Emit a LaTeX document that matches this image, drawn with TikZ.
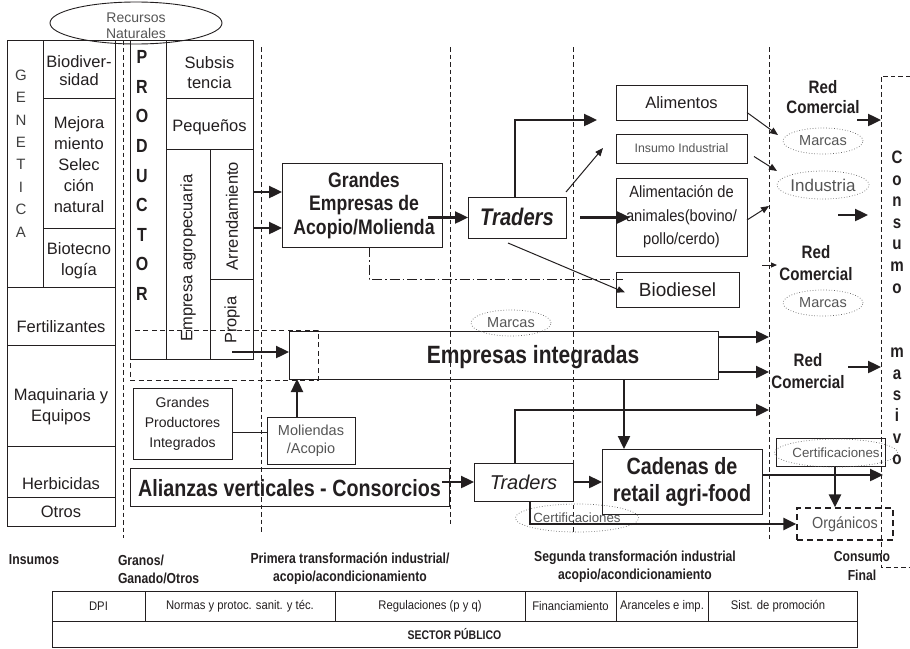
\documentclass[tikz,border=0pt]{standalone}
\usepackage{fontspec}
\setmainfont{Liberation Sans}
\newfontfamily\condfont{Liberation Sans}[FakeStretch=0.84]
\newfontfamily\narrowfont{Liberation Sans}[FakeStretch=0.9]
\usetikzlibrary{arrows.meta,shapes.geometric,fit}
\definecolor{ink}{RGB}{35,31,32}
\definecolor{soft}{RGB}{85,85,85}
\newcommand{\fsz}[2]{\fontsize{#1}{#2}\selectfont}
\tikzset{
  cell/.style={draw=ink, line width=1pt, inner sep=0pt, outer sep=0pt},
  txt/.style={inner sep=0pt, outer sep=0pt, text=ink, align=center},
  stxt/.style={txt, text=soft},
  btxt/.style={txt, font=\condfont\bfseries},
  bigarrow/.style={draw=ink, line width=2.4pt, -{Triangle[length=13pt,width=12pt]}},
  thinarrow/.style={draw=ink, line width=1pt, -{Triangle[length=8pt,width=6.5pt]}},
  plainline/.style={draw=ink, line width=1pt},
  divider/.style={draw=ink, line width=0.9pt, dash pattern=on 4.5pt off 3pt},
  zonebox/.style={draw=ink, line width=1pt, dash pattern=on 5pt off 3.5pt, inner sep=0pt},
  orgbox/.style={draw=ink, line width=1.3pt, dash pattern=on 6pt off 4pt, inner sep=0pt},
  dashdotline/.style={draw=ink, line width=1pt, dash pattern=on 10pt off 3pt on 1.5pt off 3pt},
  oval/.style={ellipse, draw=black!60, line width=0.7pt, dotted, inner sep=0pt, text=soft},
  caption/.style={btxt, font=\condfont\bfseries\fsz{14.5}{18}},
  cellt/.style={txt, font=\narrowfont\fsz{12.5}{14}},
}
\begin{document}
\begin{tikzpicture}[x=1pt,y=-1pt]
\useasboundingbox (0,0) rectangle (910,648);
\fill[white] (0,0) rectangle (910,648);

% ---------- stage dividers ----------
\draw[divider] (123,40) -- (123,538);
\draw[divider] (261,47) -- (261,533);
\draw[divider] (450,47) -- (450,527);
\draw[divider] (573,47) -- (573,533);
\draw[divider] (769,47) -- (769,540);
% consumption frame
\draw[divider] (910,76) -- (881,76) -- (881,567) -- (910,567);

% ---------- inputs column ----------
\node[cell, fit={(7,40)(43,287)}] (gen) {};
\node[cell, fit={(43,40)(115,98)}] (biodiv) {};
\node[cell, fit={(43,98)(115,228)}] (mejora) {};
\node[cell, fit={(43,228)(115,287)}] (biotec) {};
\node[cell, fit={(7,287)(115,345)}] (fert) {};
\node[cell, fit={(7,345)(115,446)}] (maq) {};
\node[cell, fit={(7,446)(115,497)}] (herb) {};
\node[cell, fit={(7,497)(115,526)}] (otros) {};
\draw[plainline] (biodiv.north east) -- (130,40);

\node[txt, text=black!75, font=\fsz{15}{22.4}] (genl) at (21,153.5) {G\\E\\N\\E\\T\\I\\C\\A};
\node[txt, font=\fsz{16.5}{18}] (biodivl) at (79,71) {Biodiver-\\sidad};
\node[txt, font=\fsz{16.5}{21}] (mejoral) at (79,165) {Mejora\\miento\\Selec\\ción\\natural};
\node[txt, font=\fsz{16.5}{21}] (biotecl) at (79,261) {Biotecno\\logía};
\node[txt, font=\fsz{16.5}{21}] (fertl) at (61,327) {Fertilizantes};
\node[txt, font=\fsz{16.5}{21}] (maql) at (61,407) {Maquinaria y\\Equipos};
\node[txt, font=\fsz{16.5}{21}] (herbl) at (61,484) {Herbicidas};
\node[txt, font=\fsz{16.5}{21}] (otrosl) at (61,512) {Otros};

% natural resources
\node[ellipse, draw=ink, line width=0.9pt, minimum width=172pt, minimum height=42pt, inner sep=0pt] (recnat) at (136,23) {};
\node[stxt, font=\fsz{14}{16}] (recnatl) at (136,26) {Recursos\\Naturales};

% ---------- producers ----------
\node[cell, fit={(130,40)(166,359)}] (prod) {};
\node[cell, fit={(166,40)(253,98)}] (subs) {};
\node[cell, fit={(166,98)(253,149)}] (peq) {};
\node[cell, fit={(166,149)(210,359)}] (empag) {};
\node[cell, fit={(210,149)(253,279)}] (arr) {};
\node[cell, fit={(210,279)(253,359)}] (prop) {};

\node[btxt, font=\condfont\bfseries\fsz{19}{29.6}] (prodl) at (142,175.5) {P\\R\\O\\D\\U\\C\\T\\O\\R};
\node[txt, font=\fsz{16.5}{20}] (subsl) at (209.5,73) {Subsis\\tencia};
\node[txt, font=\fsz{16.5}{20}] (peql) at (209.5,127) {Pequeños};
\node[txt, font=\fsz{16.5}{20}, rotate=90] (empagl) at (188,258) {Empresa agropecuaria};
\node[txt, font=\fsz{16.5}{20}, rotate=90] (arrl) at (232,216) {Arrendamiento};
\node[txt, font=\fsz{16.5}{20}, rotate=90] (propl) at (232,320) {Propia};

% ---------- integrated firms ----------
\node[cell, fit={(289,331)(718,379)}] (ei) {};
\node[zonebox, fit={(130,330)(318,380)}] (zone) {};
\node[btxt, font=\condfont\bfseries\fsz{25}{28}] (eil) at (533,357) {Empresas integradas};
\node[oval, minimum width=80pt, minimum height=26pt, font=\fsz{14.5}{16}] (marcas0) at (511,323) {Marcas};

\coordinate (propstart) at (232,352);
\draw[bigarrow] (propstart) -- (propstart -| ei.west);

\node[cell, fit={(133,388)(232,459)}] (gpi) {};
\node[txt, font=\fsz{14}{20}] (gpil) at (182.5,424) {Grandes\\Productores\\Integrados};
\node[cell, fit={(267,417)(355,464)}] (mol) {};
\node[stxt, font=\fsz{14.5}{18}] (moll) at (311,441) {Moliendas\\/Acopio};
\draw[plainline] ([yshift=-8.5pt]gpi.east) -- ([yshift=-8.5pt]gpi.east -| mol.west);
\draw[bigarrow] ([xshift=-14pt]mol.north) -- ([xshift=-14pt]mol.north |- ei.south);

% ---------- vertical alliances ----------
\node[cell, fit={(130,468)(449,506)}] (ali) {};
\node[btxt, font=\condfont\bfseries\fsz{23.5}{27}] (alil) at (289.5,488) {Alianzas verticales - Consorcios};
\node[cell, fit={(474,463)(573,501)}] (tr2) {};
\node[txt, font=\itshape\fsz{20}{24}] (tr2l) at (523.5,482) {Traders};
\node[cell, fit={(602,449)(762,514)}] (cad) {};
\node[btxt, font=\condfont\bfseries\fsz{23.5}{27}] (cadl) at (682,482) {Cadenas de\\retail agri-food};

\draw[bigarrow] ([xshift=-7pt]ali.east |- tr2.west) -- (tr2.west);
\draw[bigarrow] (tr2.east) -- (tr2.east -| cad.west);
\draw[bigarrow] ([xshift=-58pt]cad.north |- ei.south) -- ([xshift=-58pt]cad.north);
\coordinate (rc3in) at (769,410);
\draw[bigarrow] ([xshift=-8.5pt]tr2.north) |- (rc3in);
\coordinate (ei1) at (769,337);
\coordinate (ei2) at (769,372);
\draw[bigarrow] (ei.east |- ei1) -- (ei1);
\draw[bigarrow] (ei.east |- ei2) -- (ei2);

\node[oval, minimum width=110pt, minimum height=28pt, font=\fsz{13.3}{15}] (cert1) at (577,518) {Certificaciones};

% ---------- primary processing ----------
\node[cell, fit={(282,163)(442,247)}] (ge) {};
\node[btxt, font=\condfont\bfseries\fsz{21}{23.5}] (gel) at (364,205.5) {Grandes\\Empresas de\\Acopio/Molienda};
\node[cell, fit={(468,197)(566,238)}] (tr1) {};
\node[btxt, font=\condfont\bfseries\itshape\fsz{24}{28}] (tr1l) at (517,217) {Traders};

\draw[bigarrow] ([yshift=22pt]arr.east) -- ([yshift=22pt]arr.east -| ge.west);
\draw[bigarrow] ([yshift=-14pt]arr.east) -- ([yshift=-14pt]arr.east -| ge.west);
\draw[bigarrow] ([xshift=-14pt]ge.east |- tr1.west) -- (tr1.west);

% ---------- second processing ----------
\node[cell, fit={(616,85)(747,120)}] (alim) {};
\node[txt, font=\fsz{16.5}{20}] (aliml) at (681.5,102.5) {Alimentos};
\node[cell, fit={(616,134)(747,163)}] (ins) {};
\node[stxt, font=\fsz{12.3}{14}] (insl) at (681.5,148.5) {Insumo Industrial};
\node[cell, fit={(616,178)(747,256)}] (anim) {};
\node[txt, font=\narrowfont\fsz{16.3}{23.5}] (animl) at (681.5,217) {Alimentación de\\animales(bovino/\\pollo/cerdo)};
\node[cell, fit={(616,272)(739,307)}] (bio) {};
\node[txt, font=\fsz{19}{22}] (biol) at (677.5,289.5) {Biodiesel};

\coordinate (alimin) at (597,120);
\coordinate (insin) at (603,148);
\draw[bigarrow] ([xshift=-2pt]tr1.north) |- (alimin);
\draw[thinarrow] ([yshift=5pt]tr1.north east) -- (insin);
\draw[bigarrow] ([xshift=14pt]tr1.east) -- ([xshift=14pt]tr1.east -| anim.west);
\draw[thinarrow] ([xshift=-9pt,yshift=-5pt]tr1.south) -- ([xshift=9pt,yshift=-3pt]bio.west);
\coordinate (ddend) at (623,279);
\draw[dashdotline] ([xshift=7pt]ge.south) |- (ddend);

% ---------- commercial network ----------
\node[btxt, font=\condfont\bfseries\fsz{18}{20}] (rc1) at (823,97) {Red\\Comercial};
\node[oval, minimum width=80pt, minimum height=26pt, font=\fsz{14.5}{16}] (marcas1) at (823,141) {Marcas};
\node[oval, minimum width=80pt, minimum height=28pt, font=\fsz{17}{19}] (indus) at (823,185) {Industria};
\node[btxt, font=\condfont\bfseries\fsz{18}{22}] (rc2) at (816,263) {Red\\Comercial};
\node[oval, minimum width=80pt, minimum height=26pt, font=\fsz{14.5}{16}] (marcas2) at (823,303) {Marcas};
\node[btxt, font=\condfont\bfseries\fsz{18}{22}] (rc3) at (808,371) {Red\\Comercial};

\coordinate (m1in) at (778,135);
\coordinate (m2in) at (777,171);
\coordinate (m3in) at (769,206);
\coordinate (rc2a) at (762,265);
\coordinate (rc2b) at (777,265);
\draw[thinarrow] ([yshift=-10pt]alim.east) -- (m1in);
\draw[thinarrow] ([xshift=7pt,yshift=-8pt]ins.east) -- (m2in);
\draw[thinarrow] ([yshift=-3pt]anim.east) -- (m3in);
\draw[thinarrow, -{Triangle[length=6pt,width=5pt]}] (rc2a) -- (rc2b);

\coordinate (cons1) at (881,120);
\coordinate (cons2) at (868,215);
\coordinate (cons3) at (881,367);
\coordinate (cons4) at (883,475);
\draw[bigarrow] ([xshift=-24pt]cons1) -- (cons1);
\draw[bigarrow] ([xshift=-30pt]cons2) -- (cons2);
\draw[bigarrow] ([xshift=-33pt]cons3) -- (cons3);

\node[draw=ink, line width=1pt, inner sep=0pt, fit={(776,438)(885,466)}] (certbox) {};
\node[oval, minimum width=110pt, minimum height=28pt, font=\fsz{13.3}{15}] (cert2) at (836,453) {Certificaciones};
\node[orgbox, fit={(797,508)(893,540)}] (org) {};
\node[stxt, font=\narrowfont\fsz{16}{18}] (orgl) at (845,524) {Orgánicos};

\draw[bigarrow] (cad.east |- cons4) -- (cons4);
\draw[bigarrow] ([xshift=4.5pt]certbox.south) -- ([xshift=4.5pt]certbox.south |- org.north);
\draw[bigarrow] ([xshift=6.5pt]tr2.south) |- (org.west);

% consumption labels
\node[btxt, font=\condfont\bfseries\fsz{18}{21.6}] (consl) at (897,222) {C\\o\\n\\s\\u\\m\\o};
\node[btxt, font=\condfont\bfseries\fsz{18}{21.4}] (masl) at (897,406.5) {m\\a\\s\\i\\v\\o};

% ---------- stage captions ----------
\node[caption] (capa) at (34,560) {Insumos};
\node[caption, align=left, anchor=west] (capb) at (118,569) {Granos/\\Ganado/Otros};
\node[caption] (capc) at (350,569) {Primera transformación industrial/\\acopio/acondicionamiento};
\node[caption] (capd) at (635,566.5) {Segunda transformación industrial\\acopio/acondicionamiento};
\node[caption] (cape) at (862,566) {Consumo\\Final};

% ---------- public sector table ----------
\node[cell, fit={(52,591)(857,647)}] (tab) {};
\draw[plainline] (52,621) -- (857,621);
\foreach \xx in {145,335,525,616,708} \draw[plainline] (\xx,591) -- (\xx,621);
\node[cellt] (t1) at (98.5,606) {DPI};
\node[cellt] (t2) at (240,606) {Normas y protoc. sanit. y téc.};
\node[cellt] (t3) at (430,606) {Regulaciones (p y q)};
\node[cellt] (t4) at (570.5,606) {Financiamiento};
\node[cellt] (t5) at (662,606) {Aranceles e imp.};
\node[cellt] (t6) at (778,606) {Sist. de promoción};
\node[btxt, font=\condfont\bfseries\fsz{12.5}{14}] (t7) at (454.5,634) {SECTOR PÚBLICO};
\end{tikzpicture}
\end{document}
